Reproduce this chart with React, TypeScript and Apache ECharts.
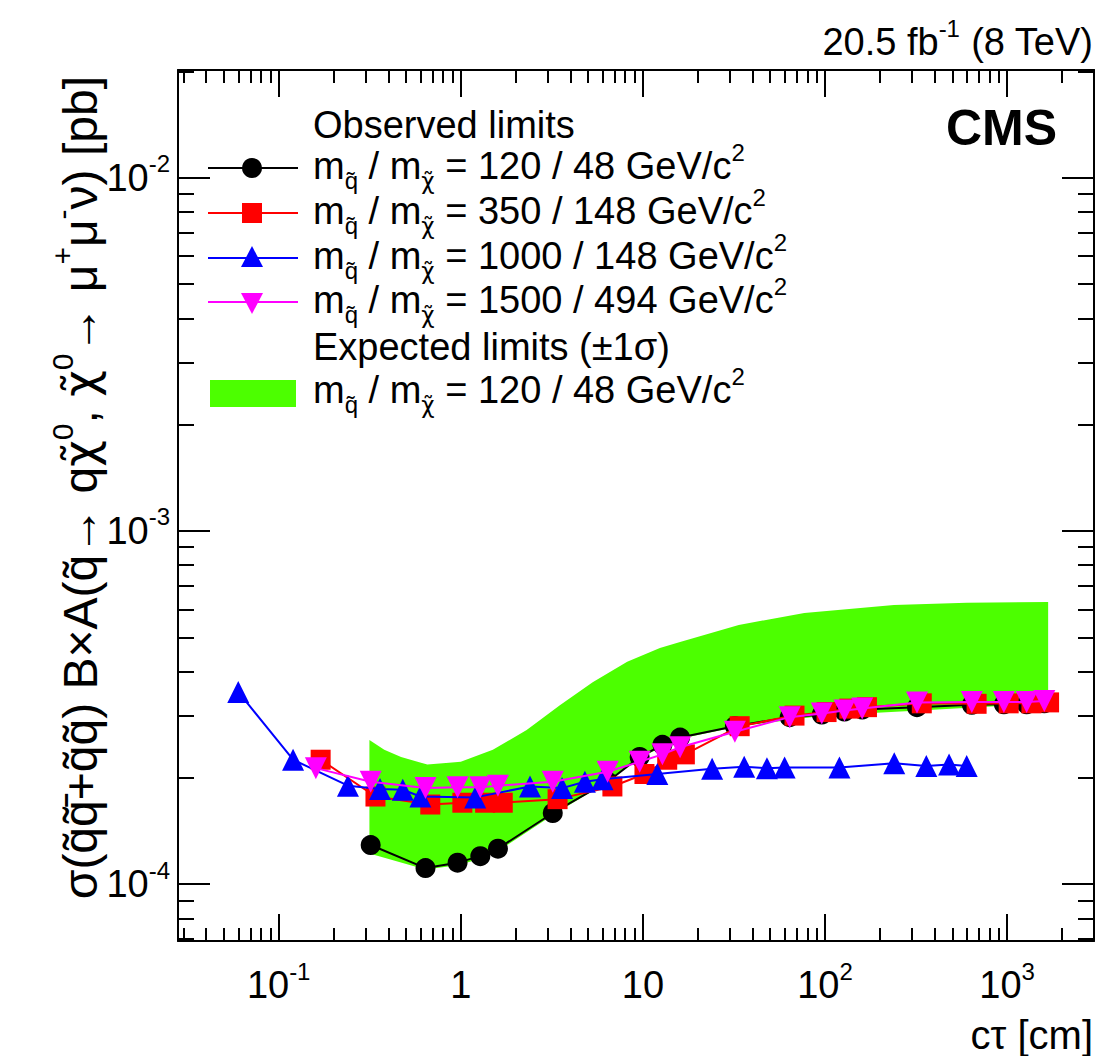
import React, { useEffect, useRef } from 'react';
import * as echarts from 'echarts';

const FONT = "'Liberation Sans', Arial, Helvetica, sans-serif";
const GREEK = "'DejaVu Sans', 'Liberation Sans', sans-serif";
const GREEN = '#4cff00';

// ---------- data: cτ [cm] and observed 95% CL limits [pb] ----------
const ctau120 = [0.32, 0.64, 0.96, 1.28, 1.6, 3.2, 6.4, 9.6, 12.8, 16, 32, 64, 96, 128, 160, 320, 640, 960, 1280, 1600];
const obs120 = [1.29e-4, 1.11e-4, 1.15e-4, 1.2e-4, 1.26e-4, 1.59e-4, 1.95e-4, 2.29e-4, 2.48e-4, 2.6e-4, 2.8e-4, 2.97e-4, 3.02e-4, 3.08e-4, 3.12e-4, 3.17e-4, 3.22e-4, 3.23e-4, 3.23e-4, 3.25e-4];

const ctau350 = [0.17, 0.34, 0.68, 1.02, 1.36, 1.7, 3.4, 6.8, 10.2, 13.6, 17, 34, 68, 102, 136, 170, 340, 680, 1020, 1360, 1700];
const obs350 = [2.25e-4, 1.77e-4, 1.68e-4, 1.7e-4, 1.7e-4, 1.7e-4, 1.74e-4, 1.89e-4, 2.05e-4, 2.25e-4, 2.33e-4, 2.8e-4, 3.0e-4, 3.07e-4, 3.14e-4, 3.17e-4, 3.25e-4, 3.24e-4, 3.25e-4, 3.25e-4, 3.27e-4];

const ctau1000 = [0.06, 0.12, 0.24, 0.36, 0.48, 0.6, 1.2, 2.4, 3.6, 4.8, 6, 12, 24, 36, 48, 60, 120, 240, 360, 480, 600];
const obs1000 = [3.5e-4, 2.25e-4, 1.9e-4, 1.86e-4, 1.85e-4, 1.77e-4, 1.76e-4, 1.89e-4, 1.87e-4, 1.95e-4, 1.98e-4, 2.05e-4, 2.12e-4, 2.15e-4, 2.13e-4, 2.14e-4, 2.14e-4, 2.2e-4, 2.16e-4, 2.18e-4, 2.16e-4];

const ctau1500 = [0.16, 0.32, 0.64, 0.96, 1.28, 1.6, 3.2, 6.4, 9.6, 12.8, 16, 32, 64, 96, 128, 160, 320, 640, 960, 1280, 1600];
const obs1500 = [2.13e-4, 1.95e-4, 1.87e-4, 1.88e-4, 1.88e-4, 1.9e-4, 1.95e-4, 2.08e-4, 2.22e-4, 2.33e-4, 2.44e-4, 2.7e-4, 2.97e-4, 3.04e-4, 3.1e-4, 3.14e-4, 3.27e-4, 3.28e-4, 3.28e-4, 3.28e-4, 3.3e-4];

// expected limit ±1σ band (120 / 48)
const bandUpperX = [0.315, 0.38, 0.47, 0.655, 1.0, 1.5, 2.3, 3.5, 5.3, 8.2, 12.4, 16, 33.6, 77, 239, 600, 1680];
const bandUpperY = [2.56e-4, 2.4e-4, 2.29e-4, 2.18e-4, 2.22e-4, 2.4e-4, 2.73e-4, 3.21e-4, 3.73e-4, 4.26e-4, 4.66e-4, 4.85e-4, 5.42e-4, 5.86e-4, 6.17e-4, 6.26e-4, 6.29e-4];
const bandLowerX = [0.315, 0.64, 0.96, 1.28, 1.6, 3.2, 6.4, 9.6, 16, 34, 100, 330, 1680];
const bandLowerY = [1.22e-4, 1.1e-4, 1.13e-4, 1.18e-4, 1.24e-4, 1.57e-4, 1.95e-4, 2.28e-4, 2.58e-4, 2.8e-4, 3.0e-4, 3.1e-4, 3.25e-4];

// ---------- axes ----------
const X_MIN = 0.028;
const X_MAX = 3000;
const Y_MIN = 6.9e-5;
const Y_MAX = 0.0202;
const xMajor = [0.1, 1, 10, 100, 1000];
const xMajorLabels = ['10{sup|-1}', '1', '10', '10{sup|2}', '10{sup|3}'];
const yMajor = [1e-4, 1e-3, 1e-2];
const yMajorLabels = ['10{sup|-4}', '10{sup|-3}', '10{sup|-2}'];
const minorMult = [2, 3, 4, 5, 6, 7, 8, 9];
const xDecadeBases = [0.01, 0.1, 1, 10, 100, 1000];
const yDecadeBases = [1e-5, 1e-4, 1e-3, 1e-2];

const legendLabels = [
  'm{sub|q\u0303} / m{subg|\u03c7\u0303} = 120 / 48 GeV/c{sup|2}',
  'm{sub|q\u0303} / m{subg|\u03c7\u0303} = 350 / 148 GeV/c{sup|2}',
  'm{sub|q\u0303} / m{subg|\u03c7\u0303} = 1000 / 148 GeV/c{sup|2}',
  'm{sub|q\u0303} / m{subg|\u03c7\u0303} = 1500 / 494 GeV/c{sup|2}',
];
const expectedLabel = 'm{sub|q\u0303} / m{subg|\u03c7\u0303} = 120 / 48 GeV/c{sup|2}';
const yTitle = '\u03c3(q\u0303q\u0303\u0304+q\u0303q\u0303) B\u00d7A(q\u0303\u2192 q{g|\u03c7\u0303}{tsup|0}, {g|\u03c7\u0303}{tsup|0}\u2192 \u03bc{tsup|+}\u03bc{tsup|-}\u03bd) [pb]';

function minorValues(bases: number[], lo: number, hi: number) {
  const out: number[] = [];
  bases.forEach((b) => minorMult.forEach((m) => {
    const v = +(b * m).toPrecision(6);
    if (v >= lo && v <= hi) out.push(v);
  }));
  return out;
}

function zip(xs: number[], ys: number[]) {
  return xs.map((x, i) => [x, ys[i]]);
}

const RICH = {
  sup: { fontSize: 24, fontFamily: FONT, verticalAlign: 'top', lineHeight: 24, color: '#000' },
  sub: { fontSize: 24, fontFamily: FONT, verticalAlign: 'bottom', lineHeight: 24, color: '#000' },
  subg: { fontSize: 23, fontFamily: GREEK, verticalAlign: 'bottom', lineHeight: 24, color: '#000' },
};

const TITLE_RICH = {
  tsup: { fontSize: 30, fontFamily: FONT, verticalAlign: 'top', lineHeight: 30, color: '#000' },
  g: { fontSize: 46, fontFamily: GREEK, lineHeight: 66, color: '#000' },
};

export default function App() {
  const ref = useRef<HTMLDivElement>(null);

  useEffect(() => {
    if (!ref.current) return;
    const chart = echarts.init(ref.current, null, { renderer: 'svg' });

    const xMinor = minorValues(xDecadeBases, X_MIN, X_MAX);
    const yMinor = minorValues(yDecadeBases, Y_MIN, Y_MAX);

    const axisLineStyle = { color: '#000', width: 2 };
    const tickStyle = { color: '#000', width: 2 };

    const xBase: any = {
      type: 'log', logBase: 10, min: X_MIN, max: X_MAX, gridIndex: 0,
      splitLine: { show: false }, minorTick: { show: false }, minorSplitLine: { show: false },
    };
    const yBase: any = {
      type: 'log', logBase: 10, min: Y_MIN, max: Y_MAX, gridIndex: 0,
      splitLine: { show: false }, minorTick: { show: false }, minorSplitLine: { show: false },
    };

    const labelStyle = {
      fontSize: 38, fontFamily: FONT, color: '#000', lineHeight: 52, rich: RICH,
    };

    const xAxis = [
      {
        ...xBase, position: 'bottom',
        axisLine: { show: true, lineStyle: axisLineStyle },
        axisTick: { show: true, inside: true, length: 27, customValues: xMajor, lineStyle: tickStyle },
        axisLabel: {
          show: true, customValues: xMajor, margin: 18, ...labelStyle,
          formatter: (v: number) => xMajorLabels[xMajor.findIndex((m) => Math.abs(Math.log10(m) - Math.log10(v)) < 1e-6)] ?? '',
        },
      },
      {
        ...xBase, position: 'bottom',
        axisLine: { show: false },
        axisTick: { show: true, inside: true, length: 13, customValues: xMinor, lineStyle: tickStyle },
        axisLabel: { show: false },
      },
      {
        ...xBase, position: 'top',
        axisLine: { show: true, lineStyle: axisLineStyle },
        axisTick: { show: true, inside: true, length: 27, customValues: xMajor, lineStyle: tickStyle },
        axisLabel: { show: false },
      },
      {
        ...xBase, position: 'top',
        axisLine: { show: false },
        axisTick: { show: true, inside: true, length: 13, customValues: xMinor, lineStyle: tickStyle },
        axisLabel: { show: false },
      },
    ];

    const yAxis = [
      {
        ...yBase, position: 'left',
        axisLine: { show: true, lineStyle: axisLineStyle },
        axisTick: { show: true, inside: true, length: 32, customValues: yMajor, lineStyle: tickStyle },
        axisLabel: {
          show: true, customValues: yMajor, margin: 8, ...labelStyle,
          formatter: (v: number) => yMajorLabels[yMajor.findIndex((m) => Math.abs(Math.log10(m) - Math.log10(v)) < 1e-6)] ?? '',
        },
      },
      {
        ...yBase, position: 'left',
        axisLine: { show: false },
        axisTick: { show: true, inside: true, length: 16, customValues: yMinor, lineStyle: tickStyle },
        axisLabel: { show: false },
      },
      {
        ...yBase, position: 'right',
        axisLine: { show: true, lineStyle: axisLineStyle },
        axisTick: { show: true, inside: true, length: 32, customValues: yMajor, lineStyle: tickStyle },
        axisLabel: { show: false },
      },
      {
        ...yBase, position: 'right',
        axisLine: { show: false },
        axisTick: { show: true, inside: true, length: 16, customValues: yMinor, lineStyle: tickStyle },
        axisLabel: { show: false },
      },
    ];

    const lineSeries = (name: string, xs: number[], ys: number[], color: string, symbol: string, size: number, z: number, rotate = 0) => ({
      name, type: 'line', xAxisIndex: 0, yAxisIndex: 0,
      data: zip(xs, ys),
      symbol, symbolSize: size, symbolRotate: rotate, showAllSymbol: true,
      itemStyle: { color }, lineStyle: { color, width: 2 },
      z, silent: true, clip: true,
    });

    const legendYs = [168, 213, 258, 302];
    const legendColors = ['#000000', '#ff0000', '#0000ff', '#ff00ff'];
    const textBase = { fontSize: 38, fontFamily: FONT, fill: '#000' };

    const legendGraphics: any[] = [];
    legendGraphics.push({
      type: 'text', x: 313, y: 125, z: 20,
      style: { ...textBase, text: 'Observed limits', align: 'left', verticalAlign: 'middle' },
    });
    legendYs.forEach((y, i) => {
      const c = legendColors[i];
      legendGraphics.push({ type: 'line', z: 20, shape: { x1: 208, y1: y, x2: 298, y2: y }, style: { stroke: c, lineWidth: 2 } });
      if (i === 0) legendGraphics.push({ type: 'circle', z: 21, shape: { cx: 252, cy: y, r: 10 }, style: { fill: c } });
      if (i === 1) legendGraphics.push({ type: 'rect', z: 21, shape: { x: 242, y: y - 10, width: 20, height: 20 }, style: { fill: c } });
      if (i === 2) legendGraphics.push({ type: 'polygon', z: 21, shape: { points: [[241, y + 9], [263, y + 9], [252, y - 12]] }, style: { fill: c } });
      if (i === 3) legendGraphics.push({ type: 'polygon', z: 21, shape: { points: [[241, y - 9], [263, y - 9], [252, y + 12]] }, style: { fill: c } });
      legendGraphics.push({
        type: 'text', x: 313, y: y - 2, z: 20,
        style: { ...textBase, text: legendLabels[i], rich: RICH, lineHeight: 52, align: 'left', verticalAlign: 'middle' },
      });
    });
    legendGraphics.push({
      type: 'text', x: 313, y: 347, z: 20,
      style: { ...textBase, text: 'Expected limits (\u00b11\u03c3)', align: 'left', verticalAlign: 'middle' },
    });
    legendGraphics.push({ type: 'rect', z: 20, shape: { x: 210, y: 380, width: 86, height: 27 }, style: { fill: GREEN } });
    legendGraphics.push({
      type: 'text', x: 313, y: 390, z: 20,
      style: { ...textBase, text: expectedLabel, rich: RICH, lineHeight: 52, align: 'left', verticalAlign: 'middle' },
    });

    const option: any = {
      animation: false,
      backgroundColor: '#ffffff',
      textStyle: { fontFamily: FONT },
      grid: { left: 178, right: 5, top: 70, bottom: 115, containLabel: false, outerBoundsMode: 'none' },
      xAxis,
      yAxis,
      series: [
        {
          name: 'Expected limits (\u00b11\u03c3)',
          type: 'custom', xAxisIndex: 0, yAxisIndex: 0, z: 1, silent: true,
          data: [[1, 1e-3]],
          renderItem: (_params: any, api: any) => {
            const pts: number[][] = [];
            for (let i = 0; i < bandUpperX.length; i++) pts.push(api.coord([bandUpperX[i], bandUpperY[i]]));
            for (let i = bandLowerX.length - 1; i >= 0; i--) pts.push(api.coord([bandLowerX[i], bandLowerY[i]]));
            return { type: 'polygon', shape: { points: pts }, style: { fill: GREEN, stroke: null } };
          },
        },
        lineSeries('120 / 48', ctau120, obs120, '#000000', 'circle', 20, 2),
        lineSeries('350 / 148', ctau350, obs350, '#ff0000', 'rect', 20, 3),
        lineSeries('1000 / 148', ctau1000, obs1000, '#0000ff', 'triangle', 22, 4),
        lineSeries('1500 / 494', ctau1500, obs1500, '#ff00ff', 'triangle', 22, 5, 180),
      ],
      graphic: [
        {
          type: 'text', x: 1093, y: 42, z: 20,
          style: { ...textBase, text: '20.5 fb{sup|-1} (8 TeV)', rich: RICH, lineHeight: 52, align: 'right', verticalAlign: 'middle' },
        },
        {
          type: 'text', x: 1057, y: 128, z: 20,
          style: { fontSize: 50, fontWeight: 'bold', fontFamily: FONT, fill: '#000', text: 'CMS', align: 'right', verticalAlign: 'middle' },
        },
        {
          type: 'text', x: 1093, y: 1035, z: 20,
          style: { ...textBase, fontSize: 40, text: 'c\u03c4 [cm]', align: 'right', verticalAlign: 'middle' },
        },
        {
          type: 'text', x: 80, y: 76, z: 20, rotation: Math.PI / 2,
          style: { fontSize: 48, fontFamily: FONT, fill: '#000', text: yTitle, rich: TITLE_RICH, lineHeight: 66, align: 'right', verticalAlign: 'middle' },
        },
        ...legendGraphics,
      ],
    };

    chart.setOption(option);
    return () => chart.dispose();
  }, []);

  return <div ref={ref} style={{ position: 'absolute', left: 0, top: 0, width: 1099, height: 1056 }} />;
}
